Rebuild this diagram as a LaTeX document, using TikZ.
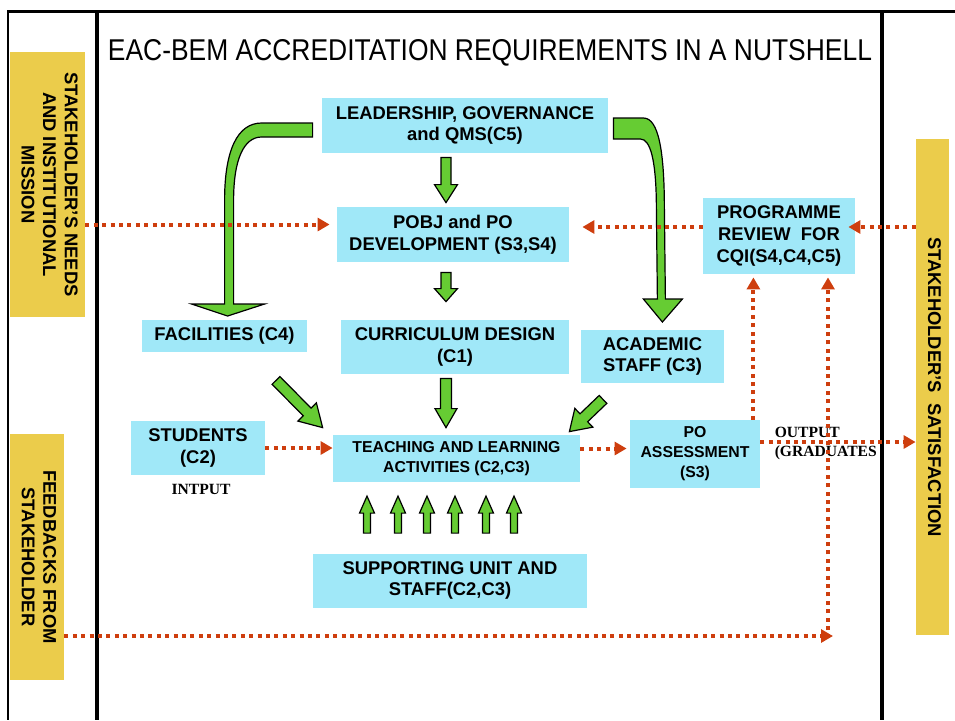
\documentclass[tikz,border=0pt]{standalone}
\usepackage{fontspec}
\setmainfont{Liberation Serif}
\setsansfont{Liberation Sans}
\usetikzlibrary{arrows.meta, calc, positioning}

\definecolor{boxblue}{RGB}{160,232,248}
\definecolor{sideyellow}{RGB}{235,204,75}
\definecolor{arrowgreen}{RGB}{102,204,51}
\definecolor{flowred}{RGB}{206,62,14}

\newcommand{\boxfont}{\sffamily\bfseries\fontsize{9.2}{10.8}\selectfont}
\newcommand{\smallboxfont}{\sffamily\bfseries\fontsize{7.9}{10}\selectfont}
\newcommand{\tagfont}{\rmfamily\bfseries\fontsize{7.8}{9.5}\selectfont}
\newcommand{\sidetext}[1]{\rotatebox{-90}{\begin{tabular}{@{}c@{}}#1\end{tabular}}}

\newcommand{\blockarrow}[5]{%
    \path #1 coordinate (ba-s) #2 coordinate (ba-e);
    \path ($(ba-e)!#5!(ba-s)$) coordinate (ba-h);
    \draw[fatarrow] ($(ba-s)!#3!90:(ba-e)$) -- ($(ba-h)!#3!-90:(ba-s)$) -- ($(ba-h)!#4!-90:(ba-s)$) -- (ba-e)
        -- ($(ba-h)!#4!90:(ba-s)$) -- ($(ba-h)!#3!90:(ba-s)$) -- ($(ba-s)!#3!-90:(ba-e)$) -- cycle;
}

\begin{document}
\begin{tikzpicture} [x=0.5pt, y=-0.5pt,
        box/.style={fill=boxblue, inner sep=0pt, align=center, font=\boxfont},
        smallbox/.style={box, font=\smallboxfont},
        side/.style={fill=sideyellow, inner sep=0pt, font=\boxfont},
        tag/.style={inner sep=0pt, align=left, font=\tagfont},
        flow/.style={draw=flowred, line width=2pt, dash pattern=on 2pt off 2.2pt, -{Triangle[length=6pt, width=6.5pt]}},
        fatarrow/.style={draw=black, line width=0.6pt, fill=arrowgreen, line join=miter}]
    \useasboundingbox (0,0) rectangle (955,720);
    \draw[line width=1pt] (8,11) -- (8,720);
    \draw[line width=1.5pt] (7,11) -- (955,11);
    \draw[line width=2.2pt] (97,11) -- (97,720);
    \draw[line width=2.2pt] (882,11) -- (882,720);

    \node (Title) [inner sep=0pt] at(490,52.5) {\resizebox{382pt}{10.5pt}{\sffamily EAC-BEM ACCREDITATION REQUIREMENTS IN A NUTSHELL}};

    \node (Needs) [side, minimum width=37.5pt, minimum height=132.5pt] at(47.5,184.5) {\sidetext{STAKEHOLDER’S NEEDS\\AND INSTITUTIONAL\\MISSION}};
    \node (Feedback) [side, minimum width=27pt, minimum height=123pt] at(37,557) {\sidetext{FEEDBACKS FROM\\STAKEHOLDER}};
    \node (Satisfaction) [side, minimum width=16.5pt, minimum height=248pt] at(932.5,387) {\sidetext{STAKEHOLDER’S\ \ SATISFACTION}};

    \node (Leadership) [box, minimum width=143pt, minimum height=27.5pt] at(465,125.5) {LEADERSHIP, GOVERNANCE\\and QMS(C5)};
    \node (Pobj) [box, minimum width=116pt, minimum height=27.5pt] at(453,234.5) {POBJ and PO\\DEVELOPMENT (S3,S4)};
    \node (Curriculum) [box, minimum width=114pt, minimum height=27pt] at(455,347) {CURRICULUM DESIGN\\(C1)};
    \node (Facilities) [box, minimum width=82.5pt, minimum height=16pt] at(224.5,336) {FACILITIES (C4)};
    \node (Academic) [box, minimum width=71.5pt, minimum height=26.5pt] at(652.5,356.5) {ACADEMIC\\STAFF (C3)};
    \node (Review) [box, minimum width=76pt, minimum height=38pt] at(779,236) {PROGRAMME\\REVIEW\ \ FOR\\CQI(S4,C4,C5)};
    \node (Students) [box, minimum width=67pt, minimum height=27pt] at(198,448) {STUDENTS\\(C2)};
    \node (Teaching) [smallbox, minimum width=123.5pt, minimum height=23.5pt] at(456.5,458.5) {TEACHING AND LEARNING\\ACTIVITIES (C2,C3)};
    \node (Assessment) [smallbox, minimum width=65pt, minimum height=34pt] at(695,454) {PO\\ASSESSMENT\\(S3)};
    \node (Support) [box, minimum width=137pt, minimum height=27pt] at(450,580.5) {SUPPORTING UNIT AND\\STAFF(C2,C3)};

    \node (Input) [tag, below=4pt of Students, xshift=1.5pt] {INTPUT};
    \node (Output) [tag, right=7pt of Assessment, yshift=5.25pt] {OUTPUT\\(GRADUATES};
    \coordinate (FbCorner) at (828,636);

    \draw[fatarrow] ($(Leadership.west)+(-4.5pt,1.25pt)$) -- ++(-51,0) .. controls +(-24,0) and +(0,-50) .. ++(-37,77) -- ++(0,104)
        -- ++(-33,0) -- ++(36,12) -- ++(37,-12) -- ++(-31,0) -- ++(0,-104) .. controls +(0,-40) and +(-18,0) .. ++(28,-63) -- ++(51,0) -- cycle;
    \draw[fatarrow] ($(Leadership.east)+(2.5pt,3.75pt)$) -- ++(30,0) .. controls +(15,0) and +(0,-60) .. ++(21,92) -- ++(1,89)
        -- ++(17,0) -- ++(-20,23) -- ++(-19,-23) -- ++(14,0) -- ++(-1,-89) .. controls +(0,-50) and +(10,0) .. ++(-16,-71) -- ++(-27,0) -- cycle;

    \blockarrow{($(Leadership.south)+(-9.5pt,-2pt)$)}{($(Pobj.north)+(-3.5pt,2pt)$)}{2.5pt}{5.75pt}{9pt}
    \blockarrow{($(Pobj.south)+(-3.5pt,-5pt)$)}{($(Curriculum.north)+(-4.5pt,9pt)$)}{2.5pt}{5.75pt}{6.5pt}
    \blockarrow{($(Curriculum.south)+(-4.5pt,-2pt)$)}{($(Teaching.north)+(-5.25pt,3.5pt)$)}{2.75pt}{5.5pt}{9.5pt}
    \blockarrow{($(Facilities.south)+(25.75pt,-14pt)$)}{($(Teaching.north west)+(-5pt,3.5pt)$)}{2.75pt}{6.5pt}{11pt}
    \blockarrow{($(Academic.south)+(-24.75pt,-8pt)$)}{($(Teaching.north east)+(-5.5pt,1.5pt)$)}{2.75pt}{6.5pt}{10pt}
    \foreach \dx in {-41.5pt,-26pt,-11.5pt,2.5pt,18pt,32pt}
        \blockarrow{($(Support.north)+(\dx,10pt)$)}{($(Support.north)+(\dx,28.5pt)$)}{1.75pt}{3.75pt}{8.5pt};

    \draw[flow] ($(Needs.east |- Pobj.west)+(0pt,5pt)$) -- ($(Pobj.west)+(-3.5pt,5pt)$);
    \draw[flow] ($(Review.west)+(0pt,4.5pt)$) -- ($(Pobj.east |- Review.west)+(6.5pt,4.5pt)$);
    \draw[flow] ($(Satisfaction.west |- Review.west)+(0pt,4.5pt)$) -- ($(Review.east)+(-3.5pt,4.5pt)$);
    \draw[flow] (Students.east) -- (Students.east -| Teaching.west);
    \draw[flow] ($(Teaching.east)+(0pt,5pt)$) -- ($(Assessment.west |- Teaching.east)+(-1.5pt,5pt)$);
    \draw[flow] ($(Assessment.east)+(0pt,6pt)$) -- ($(Satisfaction.west |- Assessment.east)+(0pt,6pt)$);
    \draw[flow] ($(Assessment.north east)+(-3.5pt,0pt)$) -- ($(Review.south -| Assessment.north east)+(-3.5pt,-1.5pt)$);
    \draw[flow] (Feedback.east |- FbCorner) -- ($(FbCorner)+(2.5pt,0pt)$);
    \draw[flow] ($(FbCorner)+(0pt,3pt)$) -- ($(FbCorner |- Review.south)+(0pt,-1.5pt)$);
\end{tikzpicture}
\end{document}
